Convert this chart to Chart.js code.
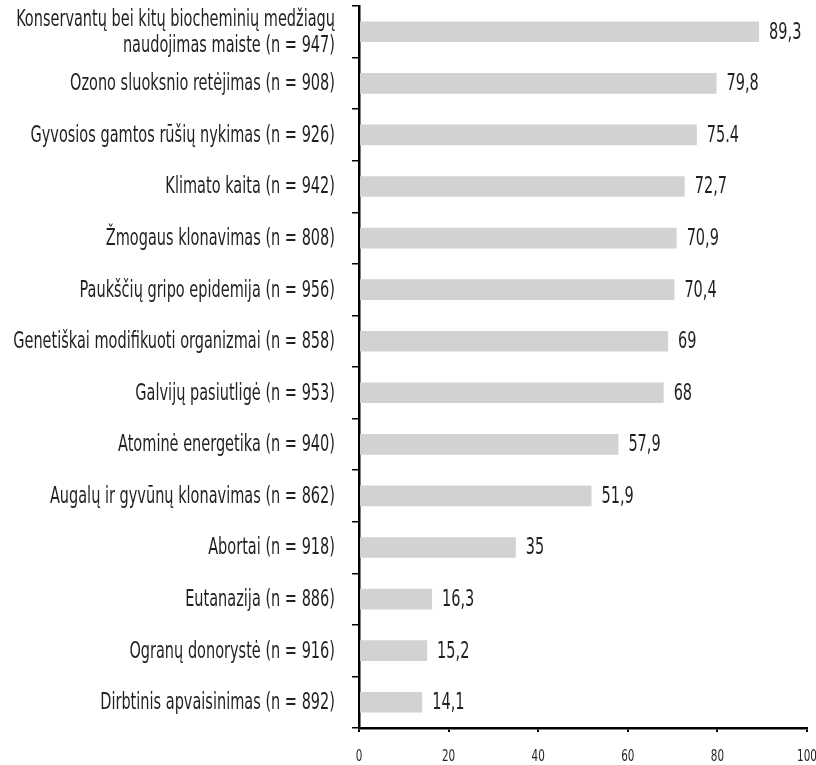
<!DOCTYPE html>
<html>
<head>
<meta charset="utf-8">
<script src="https://cdn.jsdelivr.net/npm/chart.js@4/dist/chart.umd.min.js"></script>
<style>
  html, body { margin: 0; padding: 0; background: #fff; }
  #wrap { width: 816px; height: 765px; position: relative; }
</style>
</head>
<body>
<div id="wrap"><canvas id="c" width="816" height="765"></canvas></div>
<script>
const categories = [
  ["Konservantų bei kitų biocheminių medžiagų", "naudojimas maiste (n = 947)"],
  "Ozono sluoksnio retėjimas (n = 908)",
  "Gyvosios gamtos rūšių nykimas (n = 926)",
  "Klimato kaita (n = 942)",
  "Žmogaus klonavimas (n = 808)",
  "Paukščių gripo epidemija (n = 956)",
  "Genetiškai modifikuoti organizmai (n = 858)",
  "Galvijų pasiutligė (n = 953)",
  "Atominė energetika (n = 940)",
  "Augalų ir gyvūnų klonavimas (n = 862)",
  "Abortai (n = 918)",
  "Eutanazija (n = 886)",
  "Ogranų donorystė (n = 916)",
  "Dirbtinis apvaisinimas (n = 892)"
];
const values = [89.3, 79.8, 75.4, 72.7, 70.9, 70.4, 69, 68, 57.9, 51.9, 35, 16.3, 15.2, 14.1];
const valueLabels = ["89,3", "79,8", "75.4", "72,7", "70,9", "70,4", "69", "68", "57,9", "51,9", "35", "16,3", "15,2", "14,1"];
const xTicks = [0, 20, 40, 60, 80, 100];

// ---- pick an installed (preferably condensed) font and a horizontal squeeze factor ----
const TEXT_COLOR = '#231f20';
const LABEL_SIZE = 23;
const probe = document.createElement('canvas').getContext('2d');
function fontStr(c, size) { return (c.stretch ? c.stretch + ' ' : '') + size + 'px ' + c.family; }
function measure(f, s) { probe.font = '10px monospace'; probe.font = f; return probe.measureText(s).width; }
const CAL = 'Ozono sluoksnio retėjimas (n = 908)';
const CAL_TARGET = 265; // width of that string in the reference at label size
const candidates = [
  { family: '"Liberation Sans Narrow"' },
  { family: '"DejaVu Sans Condensed"' },
  { family: '"Noto Sans"', stretch: 'condensed' },
  { family: '"Open Sans"', stretch: 'condensed' },
  { family: '"Roboto Condensed"' },
  { family: '"Liberation Sans"' },
  { family: 'sans-serif' }
];
let chosen = candidates[candidates.length - 1];
for (const c of candidates) {
  if (c.family === 'sans-serif') { chosen = c; break; }
  const wm = measure(fontStr(c, 40) + ', monospace', CAL);
  const wmono = measure('40px monospace', CAL);
  const ws = measure(fontStr(c, 40) + ', serif', CAL);
  const wserif = measure('40px serif', CAL);
  if (Math.abs(wm - wmono) < 0.5 && Math.abs(ws - wserif) < 0.5) continue; // not installed
  if (c.stretch) {
    const wn = measure('40px ' + c.family, CAL);
    const wc = measure(fontStr(c, 40), CAL);
    if (!(wc < wn - 2)) continue; // no condensed face
  }
  chosen = c; break;
}
const SX = Math.min(1, CAL_TARGET / measure(fontStr(chosen, LABEL_SIZE), CAL));

function drawText(ctx, text, x, y, align, size) {
  ctx.save();
  ctx.font = fontStr(chosen, size);
  ctx.fillStyle = TEXT_COLOR;
  ctx.textAlign = align;
  ctx.textBaseline = 'middle';
  ctx.translate(x, y);
  ctx.scale(SX, 1);
  ctx.fillText(text, 0, 0);
  ctx.restore();
}

const textPlugin = {
  id: 'texts',
  afterDraw(chart) {
    const ctx = chart.ctx;
    const ys = chart.scales.y, xs = chart.scales.x;
    // category labels
    categories.forEach((lab, i) => {
      const y = ys.getPixelForTick(i) + 1;
      const right = ys.right - 24;
      if (Array.isArray(lab)) {
        const lh = 26;
        lab.forEach((line, k) => drawText(ctx, line, right, y + (k - (lab.length - 1) / 2) * lh, 'right', LABEL_SIZE));
      } else {
        drawText(ctx, lab, right, y, 'right', LABEL_SIZE);
      }
    });
    // value labels
    const meta = chart.getDatasetMeta(0);
    meta.data.forEach((bar, i) => drawText(ctx, valueLabels[i], bar.x + 10, bar.y + 1, 'left', LABEL_SIZE));
    // x tick labels
    xTicks.forEach(v => drawText(ctx, String(v), xs.getPixelForValue(v), xs.top + 28.5, 'center', 16.5));
  }
};

new Chart(document.getElementById('c'), {
  type: 'bar',
  data: {
    labels: categories,
    datasets: [{
      data: values,
      backgroundColor: '#d1d2d4',
      borderWidth: 0,
      barPercentage: 0.4,
      categoryPercentage: 1.0
    }]
  },
  options: {
    indexAxis: 'y',
    responsive: false,
    animation: false,
    layout: { padding: { top: 6, right: 9, left: 0, bottom: 0 } },
    plugins: {
      legend: { display: false },
      tooltip: { enabled: false }
    },
    scales: {
      x: {
        min: 0, max: 100,
        afterBuildTicks(scale) { scale.ticks = xTicks.map(v => ({ value: v })); },
        afterFit(scale) { scale.height = 37; scale.paddingLeft = 0; scale.paddingRight = 0; },
        grid: { drawOnChartArea: false, drawTicks: true, tickLength: 4, tickColor: '#000', lineWidth: 2 },
        border: { display: true, color: '#000', width: 2.5 },
        ticks: { display: false }
      },
      y: {
        afterFit(scale) { scale.width = 359; scale.paddingTop = 0; scale.paddingBottom = 0; },
        grid: { drawOnChartArea: false, drawTicks: true, tickLength: 7, tickColor: '#000', lineWidth: 1.5, offset: true },
        border: { display: true, color: '#000', width: 2.5 },
        ticks: { display: false, autoSkip: false }
      }
    }
  },
  plugins: [textPlugin]
});
</script>
</body>
</html>
